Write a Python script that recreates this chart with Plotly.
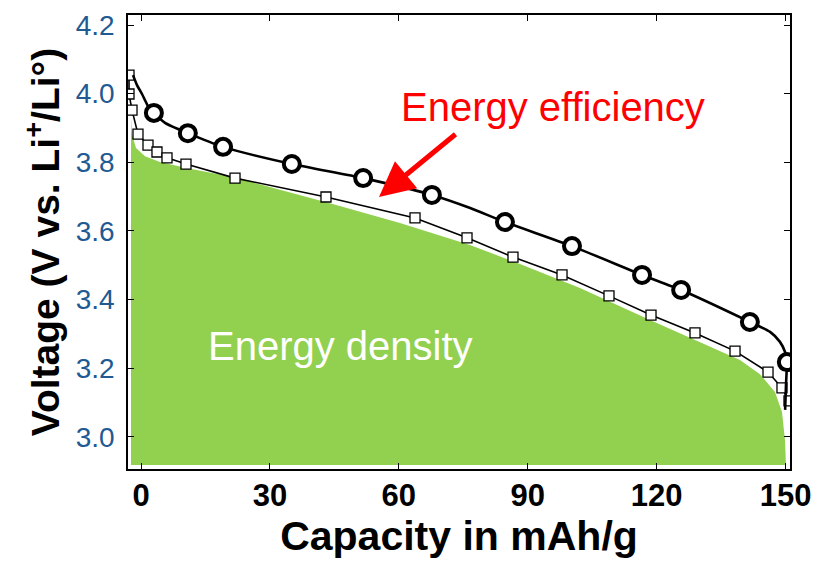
import plotly.graph_objects as go

# ---------------- data ----------------
# open-circle curve (upper)
circle_cap = [3.0, 10.9, 19.1, 35.1, 51.7, 67.7, 84.7, 100.3, 116.6, 125.7, 141.7, 150.3]
circle_v = [3.944, 3.885, 3.845, 3.795, 3.754, 3.705, 3.626, 3.556, 3.472, 3.428, 3.335, 3.218]

# smooth line drawn through the circles
circle_line_cap = [-1.86, -0.93, 0.23, 1.63, 3.0, 5.59, 10.9, 19.1, 35.1, 51.7, 67.7, 76.6,
                   84.7, 100.3, 116.6, 125.7, 141.7, 146.4, 148.7, 149.9, 150.3, 150.1, 149.9]
circle_line_v = [4.054, 4.025, 3.999, 3.964, 3.944, 3.915, 3.885, 3.845, 3.795, 3.754, 3.705, 3.667,
                 3.626, 3.556, 3.472, 3.428, 3.335, 3.306, 3.277, 3.247, 3.218, 3.151, 3.079]

# open-square curve (lower)
square_cap = [-2.79, -2.79, -2.09, -0.70, 1.63, 3.72, 6.05, 10.47, 21.88, 43.05, 63.77, 75.87,
              86.57, 97.98, 108.91, 118.69, 128.93, 138.24, 145.92, 149.17, 150.80]
square_v = [4.054, 3.999, 3.952, 3.882, 3.850, 3.830, 3.813, 3.795, 3.754, 3.699, 3.638, 3.580,
            3.524, 3.472, 3.411, 3.355, 3.303, 3.250, 3.189, 3.143, 3.105]

# top edge of the green "energy density" area
area_cap = [-2.33, -2.09, -1.16, 0.93, 4.42, 11.40, 21.4, 43.98, 60.27, 76.57, 88.20, 102.16,
            118.46, 130.09, 139.40, 144.05, 147.54, 149.17, 149.87, 150.10]
area_v = [3.932, 3.880, 3.842, 3.818, 3.801, 3.781, 3.757, 3.681, 3.623, 3.559, 3.504, 3.434,
          3.341, 3.277, 3.224, 3.183, 3.131, 3.073, 2.991, 2.918]
area_base = 2.918

x_tick_vals = [0, 30, 60, 90, 120, 150]
y_tick_vals = [3.0, 3.2, 3.4, 3.6, 3.8, 4.0, 4.2]

# ---------------- layout helpers ----------------
W, H = 813, 566
L, R, T, B = 128, 23, 15, 97
PW, PH = W - L - R, H - T - B


def pxx(px):
    return (px - L) / PW


def pxy(py):
    return (H - B - py) / PH


GREEN = "#92D050"
BLUE = "#215A93"
RED = "#FF0000"
SANS = "Liberation Sans, Arial, sans-serif"

fig = go.Figure()

poly_x = area_cap + [area_cap[0]]
poly_y = area_v + [area_base]
fig.add_trace(go.Scatter(x=poly_x, y=poly_y, mode="lines", fill="toself",
                         fillcolor=GREEN, line=dict(width=0, color=GREEN),
                         hoverinfo="skip", showlegend=False))

fig.add_trace(go.Scatter(x=square_cap, y=square_v, mode="lines+markers",
                         line=dict(color="black", width=1.6),
                         marker=dict(symbol="square", size=10, color="white",
                                     line=dict(color="black", width=1.3)),
                         showlegend=False))

fig.add_trace(go.Scatter(x=circle_line_cap, y=circle_line_v, mode="lines",
                         line=dict(color="black", width=2.6, shape="spline", smoothing=0.6),
                         hoverinfo="skip", showlegend=False))

fig.add_trace(go.Scatter(x=circle_cap, y=circle_v, mode="markers",
                         marker=dict(symbol="circle", size=16, color="white",
                                     line=dict(color="black", width=4)),
                         showlegend=False))

fig.update_layout(
    width=W, height=H,
    margin=dict(l=L, r=R, t=T, b=B, autoexpand=False),
    paper_bgcolor="white", plot_bgcolor="white",
    xaxis=dict(range=[(128 - 141) / 4.297, (790 - 141) / 4.297], automargin=False,
               tickvals=x_tick_vals, ticks="inside", ticklen=6, tickcolor="black",
               showline=True, linecolor="black", linewidth=1.5, mirror="ticks",
               showgrid=False, zeroline=False,
               tickfont=dict(family=SANS, size=31, color="black", weight="bold"),
               ticklabelstandoff=-2,
               title=dict(text="Capacity in mAh/g", standoff=6,
                          font=dict(family=SANS, size=41, color="black", weight="bold"))),
    yaxis=dict(range=[4.2 - (469 - 25) / 343.3, 4.2 + (25 - 15) / 343.3], automargin=False,
               tickvals=y_tick_vals, tickformat=".1f", ticks="inside", ticklen=6,
               tickcolor="black",
               showline=True, linecolor="black", linewidth=1.5, mirror="ticks",
               showgrid=False, zeroline=False,
               tickfont=dict(family=SANS, size=28, color=BLUE),
               ticklabelstandoff=6,
               title=dict(text="Voltage (V vs. Li<sup>+</sup>/Li°)", standoff=4,
                          font=dict(family=SANS, size=39, color="black", weight="bold"))),
)

fig.add_annotation(text="Energy efficiency", xref="paper", yref="paper",
                   x=pxx(399), y=pxy(107), xanchor="left", yanchor="middle",
                   showarrow=False, font=dict(family=SANS, size=40, color=RED))
fig.add_annotation(text="Energy density", xref="paper", yref="paper",
                   x=pxx(206), y=pxy(346), xanchor="left", yanchor="middle",
                   showarrow=False, font=dict(family=SANS, size=40, color="white"))
fig.add_annotation(text="", xref="paper", yref="paper", axref="pixel", ayref="pixel",
                   x=pxx(379), y=pxy(197), ax=78, ay=-64,
                   showarrow=True, arrowhead=2, arrowsize=1.4, arrowwidth=5,
                   arrowcolor=RED, standoff=0)

fig.write_html("out.html", config={"displayModeBar": False},
               post_script="document.body.style.margin='0';document.body.style.overflow='hidden';")
